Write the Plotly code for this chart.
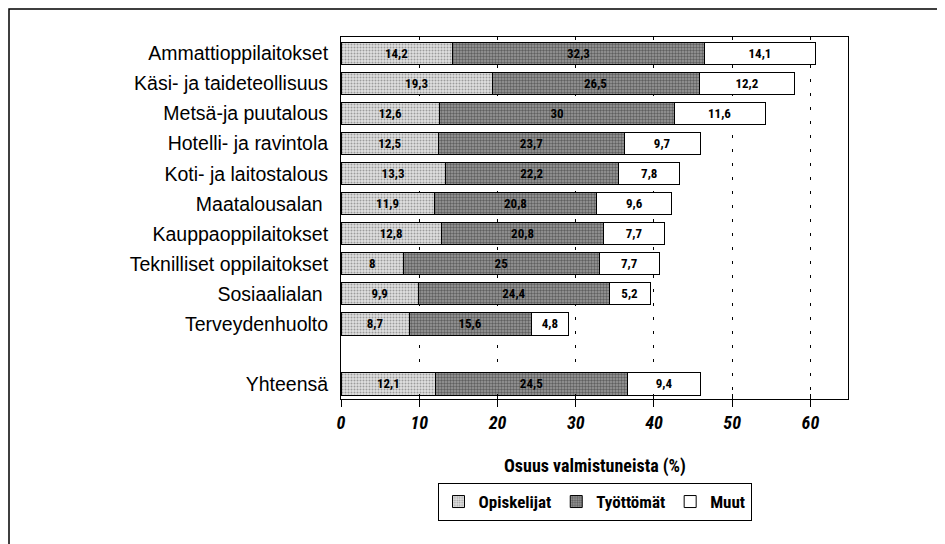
import plotly.graph_objects as go

categories = ['Ammattioppilaitokset', 'Käsi- ja taideteollisuus', 'Metsä-ja puutalous',
              'Hotelli- ja ravintola', 'Koti- ja laitostalous', 'Maatalousalan\u00a0',
              'Kauppaoppilaitokset', 'Teknilliset oppilaitokset', 'Sosiaalialan\u00a0',
              'Terveydenhuolto', 'Yhteensä']
positions = [0, 1, 2, 3, 4, 5, 6, 7, 8, 9, 11]

opiskelijat = [14.2, 19.3, 12.6, 12.5, 13.3, 11.9, 12.8, 8, 9.9, 8.7, 12.1]
tyottomat = [32.3, 26.5, 30, 23.7, 22.2, 20.8, 20.8, 25, 24.4, 15.6, 24.5]
muut = [14.1, 12.2, 11.6, 9.7, 7.8, 9.6, 7.7, 7.7, 5.2, 4.8, 9.4]

x_ticks = [0, 10, 20, 30, 40, 50, 60]

FONT = 'Liberation Sans Narrow, Roboto Condensed, Arial Narrow, Roboto, sans-serif'
LABEL_FONT = 'Liberation Sans, Arial, sans-serif'


def fmt(v):
    return f'{v:g}'.replace('.', ',')


series = [
    ('Opiskelijat', opiskelijat, dict(color='#e0e0e0', pattern=dict(shape='.', fgcolor='#555', size=3, solidity=0.35))),
    ('Työttömät', tyottomat, dict(color='#9c9c9c', pattern=dict(shape='.', fgcolor='#222', size=3, solidity=0.5))),
    ('Muut', muut, dict(color='white')),
]

fig = go.Figure()
for name, vals, marker in series:
    fig.add_trace(go.Bar(
        x=vals, y=positions, orientation='h', name=name,
        width=0.74,
        marker=dict(line=dict(color='black', width=1), **marker),
        text=[fmt(v) for v in vals],
        textposition='inside', insidetextanchor='middle', textangle=0,
        textfont=dict(family=FONT, size=13, color='black', weight='bold'),
        constraintext='none',
    ))

# dummy trace so the overlay axis (inner half of the crossing ticks) is drawn
fig.add_trace(go.Scatter(x=[None], y=[None], xaxis='x2', showlegend=False, hoverinfo='skip'))

# the page body adds an 8px offset, so the figure is 8px smaller and shifted
fig.update_layout(
    width=937, height=536,
    barmode='stack',
    paper_bgcolor='white', plot_bgcolor='white',
    margin=dict(l=333, r=97, t=29, b=145),
    font=dict(family=FONT, color='black'),
    xaxis=dict(
        range=[0, 64.8], tickvals=x_ticks, ticktext=[str(t) for t in x_ticks],
        showgrid=True, gridcolor='black', gridwidth=1, griddash='3px,11px',
        zeroline=False, showline=True, linecolor='black', linewidth=1, mirror=True,
        ticks='outside', ticklen=7, tickcolor='black',
        tickfont=dict(family=FONT, size=18, style='italic', weight='bold'),
    ),
    xaxis2=dict(
        overlaying='x', anchor='y', side='bottom', range=[0, 64.8], tickvals=x_ticks,
        showticklabels=False, showgrid=False, zeroline=False, showline=False,
        ticks='inside', ticklen=5, tickcolor='black',
    ),
    yaxis=dict(
        range=[11.5, -0.55], tickvals=positions, ticktext=categories,
        showgrid=False, zeroline=False, showline=True, linecolor='black', linewidth=1,
        mirror=True, ticks='', ticklabelstandoff=8,
        tickfont=dict(family=LABEL_FONT, size=19.5),
    ),
    legend=dict(
        orientation='h', x=0.5, xanchor='center', y=-0.232, yanchor='top',
        bordercolor='black', borderwidth=1, bgcolor='white',
        font=dict(family=FONT, size=17, weight='bold'),
        itemwidth=30, traceorder='normal',
    ),
    showlegend=True,
    annotations=[dict(
        text='Osuus valmistuneista (%)', xref='paper', yref='paper',
        x=0.5, y=-0.185, xanchor='center', yanchor='middle', showarrow=False,
        font=dict(family=FONT, size=18, weight='bold'),
    )],
    shapes=[dict(
        type='rect', xref='paper', yref='paper',
        x0=(1 - 333) / 507, x1=(960 - 333) / 507,
        y0=(391 - 560) / 362, y1=(391 - 1) / 362,
        line=dict(color='black', width=1.5), fillcolor='rgba(0,0,0,0)', layer='below',
    )],
)

fig.write_html('out.html')
